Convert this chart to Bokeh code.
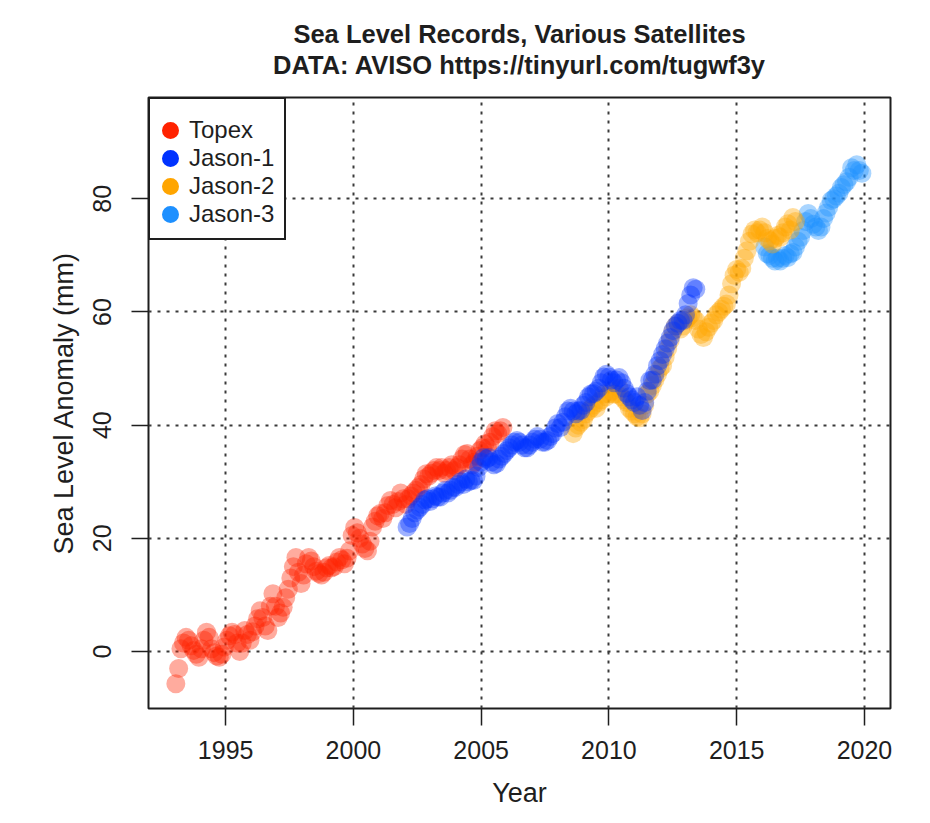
from bokeh.plotting import figure
from bokeh.models import Range1d, Legend, LegendItem, Title, FixedTicker
from bokeh.embed import file_html
from bokeh.resources import INLINE

# ---------------- data ----------------
topex_year = [1993.05, 1993.16, 1993.25, 1993.35, 1993.45, 1993.55, 1993.65, 1993.75, 1993.85, 1993.95,
              1994.05, 1994.15, 1994.25, 1994.35, 1994.45, 1994.55, 1994.65, 1994.75, 1994.85, 1994.95,
              1995.05, 1995.15, 1995.25, 1995.35, 1995.45, 1995.55, 1995.65, 1995.75, 1995.85, 1995.95,
              1996.05, 1996.15, 1996.25, 1996.35, 1996.45, 1996.55, 1996.65, 1996.75, 1996.85, 1996.95,
              1997.05, 1997.15, 1997.25, 1997.35, 1997.45, 1997.55, 1997.65, 1997.75, 1997.85, 1997.95,
              1998.05, 1998.15, 1998.25, 1998.35, 1998.45, 1998.55, 1998.65, 1998.75, 1998.85, 1998.95,
              1999.05, 1999.15, 1999.25, 1999.35, 1999.45, 1999.55, 1999.65, 1999.75, 1999.85, 1999.95,
              2000.05, 2000.15, 2000.25, 2000.35, 2000.45, 2000.55, 2000.65, 2000.75, 2000.85, 2000.95,
              2001.05, 2001.15, 2001.25, 2001.35, 2001.45, 2001.55, 2001.65, 2001.75, 2001.85, 2001.95,
              2002.05, 2002.15, 2002.25, 2002.35, 2002.45, 2002.55, 2002.65, 2002.75, 2002.85, 2002.95,
              2003.05, 2003.15, 2003.25, 2003.35, 2003.45, 2003.55, 2003.65, 2003.75, 2003.85, 2003.95,
              2004.05, 2004.15, 2004.25, 2004.35, 2004.45, 2004.55, 2004.65, 2004.75, 2004.85, 2004.95,
              2005.05, 2005.15, 2005.25, 2005.35, 2005.45, 2005.55, 2005.65, 2005.75, 2005.85]
topex_mm = [-5.7, -3.0, 0.5, 1.5, 2.5, 2.0, 1.0, 0.2, -0.5, -1.0,
            0.5, 2.0, 3.4, 2.5, 0.5, -0.2, -0.8, -1.0, -0.5, 0.8,
            2.0, 2.8, 3.4, 3.0, 1.5, 0.0, 1.5, 3.7, 3.0, 2.0,
            3.5, 4.5, 5.8, 7.2, 6.0, 4.5, 3.7, 8.0, 10.2, 8.0,
            6.0, 6.8, 7.8, 9.5, 11.0, 13.0, 15.0, 16.6, 14.0, 12.0,
            13.5, 15.5, 16.6, 16.0, 15.0, 14.2, 13.8, 13.5, 14.0, 14.8,
            15.2, 14.8, 15.0, 15.8, 16.6, 16.2, 15.5, 16.5, 17.8, 20.5,
            21.9, 21.0, 20.0, 19.0, 18.2, 17.8, 19.5, 22.0, 23.0, 24.0,
            24.4, 23.5, 24.5, 25.8, 26.7, 26.0, 25.4, 26.5, 28.0, 27.0,
            26.0, 27.0, 27.5, 28.0, 28.5, 29.0, 29.5, 30.5, 31.4, 31.0,
            31.5, 32.0, 32.5, 32.0, 32.5, 31.5, 32.0, 32.5, 33.0, 32.0,
            32.5, 33.0, 34.0, 34.8, 35.0, 34.0, 33.0, 33.5, 34.5, 35.5,
            36.0, 36.7, 36.0, 37.0, 38.0, 39.0, 38.5, 39.0, 39.6]

jason1_year = [2002.1, 2002.2, 2002.3, 2002.4, 2002.5, 2002.6, 2002.7, 2002.8, 2002.9,
               2003.0, 2003.1, 2003.2, 2003.3, 2003.4, 2003.5, 2003.6, 2003.7, 2003.8, 2003.9,
               2004.0, 2004.1, 2004.2, 2004.3, 2004.4, 2004.5, 2004.6, 2004.7, 2004.8, 2004.9,
               2005.0, 2005.1, 2005.2, 2005.3, 2005.4, 2005.5, 2005.6, 2005.7, 2005.8, 2005.9,
               2006.0, 2006.1, 2006.2, 2006.3, 2006.4, 2006.5, 2006.6, 2006.7, 2006.8, 2006.9,
               2007.0, 2007.1, 2007.2, 2007.3, 2007.4, 2007.5, 2007.6, 2007.7, 2007.8, 2007.9,
               2008.0, 2008.1, 2008.2, 2008.3, 2008.4, 2008.5, 2008.6, 2008.7, 2008.8, 2008.9,
               2009.0, 2009.1, 2009.2, 2009.3, 2009.4, 2009.5, 2009.6, 2009.7, 2009.8, 2009.9,
               2010.0, 2010.1, 2010.2, 2010.3, 2010.4, 2010.5, 2010.6, 2010.7, 2010.8, 2010.9,
               2011.0, 2011.1, 2011.2, 2011.3, 2011.4, 2011.5, 2011.6, 2011.7, 2011.8, 2011.9,
               2012.0, 2012.1, 2012.2, 2012.3, 2012.4, 2012.5, 2012.6, 2012.7, 2012.8, 2012.9,
               2013.0, 2013.1, 2013.2, 2013.3, 2013.4]
jason1_mm = [22.0, 22.6, 23.5, 24.5, 25.0, 25.5, 26.0, 26.8, 27.0,
             26.5, 27.0, 27.5, 27.3, 27.3, 28.0, 28.5, 28.0, 28.5, 29.0,
             29.0, 29.5, 30.0, 29.5, 30.5, 30.0, 30.2, 30.2, 31.0, 32.5,
             33.5, 34.3, 34.0, 34.3, 33.5, 33.0, 33.2, 34.0, 34.5, 35.0,
             35.5, 36.0, 36.5, 37.0, 37.3, 37.0, 36.5, 36.0, 36.0, 36.5,
             37.0, 37.5, 38.0, 37.5, 37.0, 37.0, 37.3, 38.0, 38.5, 39.5,
             40.3, 39.6, 40.5, 41.5, 42.5, 43.0, 42.5, 42.0, 42.5, 42.6,
             43.5, 44.0, 45.0, 45.5, 45.6, 46.0, 46.5, 47.5, 48.5, 49.0,
             48.5, 48.0, 47.5, 48.0, 48.4, 47.5, 46.5, 45.6, 45.0, 44.5,
             44.0, 45.0, 43.5, 42.6, 44.0, 46.0, 47.9, 48.0, 49.0, 50.5,
             51.4, 52.5, 53.5, 54.5, 55.5, 56.7, 57.5, 58.0, 58.5, 58.5,
             59.5, 61.5, 63.0, 64.3, 64.0]

jason2_year = [2008.6, 2008.7, 2008.8, 2008.9,
               2009.0, 2009.1, 2009.2, 2009.3, 2009.4, 2009.5, 2009.6, 2009.7, 2009.8, 2009.9,
               2010.0, 2010.1, 2010.2, 2010.3, 2010.4, 2010.5, 2010.6, 2010.7, 2010.8, 2010.9,
               2011.0, 2011.1, 2011.2, 2011.3, 2011.4, 2011.5, 2011.6, 2011.7, 2011.8, 2011.9,
               2012.0, 2012.1, 2012.2, 2012.3, 2012.4, 2012.5, 2012.6, 2012.7, 2012.8, 2012.9,
               2013.0, 2013.1, 2013.2, 2013.3, 2013.4, 2013.5, 2013.6, 2013.7, 2013.8, 2013.9,
               2014.0, 2014.1, 2014.2, 2014.3, 2014.4, 2014.5, 2014.6, 2014.7, 2014.8, 2014.9,
               2015.0, 2015.1, 2015.2, 2015.3, 2015.4, 2015.5, 2015.6, 2015.7, 2015.8, 2015.9,
               2016.0, 2016.1, 2016.2, 2016.3, 2016.4, 2016.5, 2016.6, 2016.7, 2016.8, 2016.9,
               2017.0, 2017.1, 2017.2, 2017.3]
jason2_mm = [38.5, 39.5, 40.0, 40.5,
             41.0, 42.0, 42.5, 43.0, 43.5, 43.0, 44.0, 44.5, 45.5, 45.0,
             45.5, 46.0, 45.5, 45.5, 46.5, 45.0, 44.5, 44.0, 43.0, 42.5,
             42.0, 41.5, 41.3, 42.0, 43.5, 45.5, 46.0, 47.0, 48.0, 49.0,
             50.0, 50.5, 52.0, 53.5, 55.0, 56.5, 57.5, 58.0, 57.0, 57.5,
             58.5, 59.0, 59.5, 59.0, 58.5, 57.0, 56.0, 55.5, 56.5, 57.3,
             58.0, 58.5, 59.5, 60.0, 60.5, 61.0, 61.4, 63.0, 65.0, 66.5,
             67.5, 67.0, 67.7, 69.5, 70.8, 72.5, 73.8, 74.5, 74.0, 74.5,
             75.0, 74.0, 73.0, 72.6, 72.0, 73.0, 73.5, 73.2, 74.0, 75.0,
             75.6, 74.5, 76.7, 76.0]

jason3_year = [2016.1, 2016.2, 2016.3, 2016.4, 2016.5, 2016.6, 2016.7, 2016.8, 2016.9,
               2017.0, 2017.1, 2017.2, 2017.3, 2017.4, 2017.5, 2017.6, 2017.7, 2017.8, 2017.9,
               2018.0, 2018.1, 2018.2, 2018.3, 2018.4, 2018.5, 2018.6, 2018.7, 2018.8, 2018.9,
               2019.0, 2019.1, 2019.2, 2019.3, 2019.4, 2019.5, 2019.6, 2019.7, 2019.8, 2019.9]
jason3_mm = [71.5, 70.3, 70.0, 69.5, 69.0, 69.5, 69.0, 69.5, 70.0,
             69.6, 70.3, 70.5, 71.5, 72.5, 73.2, 74.4, 76.0, 77.4, 76.5,
             75.5, 75.0, 74.4, 75.0, 76.5, 77.5, 78.5, 79.7, 80.0, 80.5,
             81.0, 82.0, 82.5, 83.0, 83.8, 85.5, 85.0, 86.0, 85.0, 84.5]

series_names = ["Topex", "Jason-1", "Jason-2", "Jason-3"]
series_colors = ["#FF2200", "#0033FF", "#FFA500", "#1E90FF"]

x_ticks = [1995, 2000, 2005, 2010, 2015, 2020]
y_ticks = [0, 20, 40, 60, 80]

title_line1 = "Sea Level Records, Various Satellites"
title_line2 = "DATA: AVISO https://tinyurl.com/tugwf3y"

FONT = "Liberation Sans"
INK = "#1e1e1e"

# ---------------- figure ----------------
p = figure(width=914, height=815, output_backend="svg", toolbar_location=None,
           title=None,
           x_range=Range1d(1991.98, 2021.02), y_range=Range1d(-10.07, 97.9),
           min_border_left=148, min_border_right=24, min_border_top=97, min_border_bottom=107)
p.background_fill_color = "white"
p.border_fill_color = "white"
p.outline_line_color = INK
p.outline_line_width = 2

# data points
series = {
    "Topex": (topex_year, topex_mm),
    "Jason-1": (jason1_year, jason1_mm),
    "Jason-2": (jason2_year, jason2_mm),
    "Jason-3": (jason3_year, jason3_mm),
}
color_of = dict(zip(series_names, series_colors))
for name in ["Topex", "Jason-3", "Jason-2", "Jason-1"]:
    xs, ys = series[name]
    p.scatter(x=xs, y=ys, size=19, marker="circle", fill_color=color_of[name],
              fill_alpha=0.38, line_color=None)

# axes
for ax in (p.xaxis[0], p.yaxis[0]):
    ax.axis_line_color = None
    ax.major_tick_line_color = INK
    ax.major_tick_line_width = 1.5
    ax.major_tick_out = 17
    ax.major_tick_in = 0
    ax.minor_tick_line_color = None
    ax.major_label_text_font = FONT
    ax.major_label_text_font_size = "25px"
    ax.major_label_text_color = INK
    ax.axis_label_text_font = FONT
    ax.axis_label_text_font_size = "27px"
    ax.axis_label_text_font_style = "normal"
    ax.axis_label_text_color = INK

p.xaxis.ticker = FixedTicker(ticks=x_ticks)
p.yaxis.ticker = FixedTicker(ticks=y_ticks)
p.xaxis.axis_label = "Year"
p.yaxis.axis_label = "Sea Level Anomaly (mm)"
p.xaxis.major_label_standoff = 15
p.xaxis.axis_label_standoff = 16
p.yaxis.major_label_orientation = "vertical"
p.yaxis.major_label_standoff = 20
p.yaxis.axis_label_standoff = 12

# grid
p.xgrid.ticker = FixedTicker(ticks=x_ticks)
p.ygrid.ticker = FixedTicker(ticks=y_ticks)
for g in (p.xgrid[0], p.ygrid[0]):
    g.grid_line_color = "#3a3a3a"
    g.grid_line_width = 2
    g.grid_line_dash = "3 6"

# titles: a thin spacer next to the plot, then line 2, then line 1
spacer = Title(text=" ", text_font_size="1px", standoff=16)
p.add_layout(spacer, "above")
t2 = Title(text=title_line2, align="center", text_font=FONT, text_font_size="25.5px",
           text_font_style="bold", text_color=INK, standoff=0)
p.add_layout(t2, "above")
t1 = Title(text=title_line1, align="center", text_font=FONT, text_font_size="25.5px",
           text_font_style="bold", text_color=INK, standoff=2)
p.add_layout(t1, "above")

# legend with opaque markers (renderers hold no visible point)
nan = float("nan")
items = []
for name in series_names:
    c = color_of[name]
    r = p.scatter(x=[nan], y=[nan], size=8, marker="circle", fill_color=c, line_color=c, line_width=9)
    items.append(LegendItem(label=name, renderers=[r]))
legend = Legend(items=items, location="top_left", margin=0, padding=10, spacing=0,
                glyph_width=20, glyph_height=28, label_height=28, label_standoff=9,
                label_text_font=FONT, label_text_font_size="24px", label_text_color=INK,
                border_line_color=INK, border_line_width=2, border_line_alpha=1.0,
                background_fill_color="white", background_fill_alpha=1.0,
                title=" ", title_text_font_size="7px", title_standoff=0)
p.add_layout(legend)

open("out.html", "w").write(file_html(p, INLINE))
